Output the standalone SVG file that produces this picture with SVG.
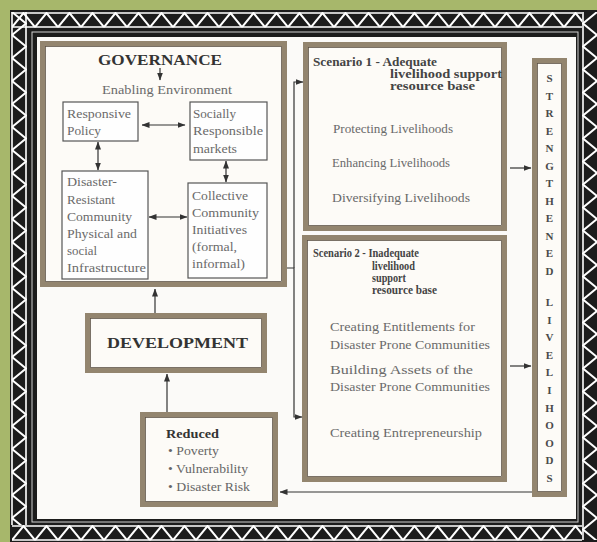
<svg xmlns="http://www.w3.org/2000/svg" width="597" height="542" viewBox="0 0 597 542">
<style>
text{font-family:"Liberation Serif","Times New Roman",serif;}
.h{font-weight:bold;fill:#333;}
.b{fill:#6a6a6a;font-size:12.5px;}
.s{fill:#666;font-size:11.5px;}
.sh{font-weight:bold;fill:#444;font-size:11.5px;}
.L{font-weight:bold;fill:#4a4a4a;font-size:11px;text-anchor:middle;}
.bx{fill:#fdfbf7;stroke:#93856f;stroke-width:5;}
.bxi{fill:none;stroke:#5a4f43;stroke-width:0.8;}
.sm{fill:#fefefe;stroke:#555;stroke-width:1.2;}
.c{fill:none;stroke:#333;stroke-width:1.2;}
</style>
<defs>
<marker id="ah" markerWidth="8" markerHeight="6" refX="7.5" refY="3" orient="auto-start-reverse" markerUnits="userSpaceOnUse">
<path d="M0,0 L8,3 L0,6 z" fill="#333"/>
</marker>
<pattern id="zzH" patternUnits="userSpaceOnUse" x="12" y="12" width="23" height="16">
<path d="M0,15 L11.5,1 L23,15" fill="none" stroke="#fff" stroke-width="2"/>
<path d="M0,1 H23 M0,15 H23" stroke="#fff" stroke-width="1.6"/>
</pattern>
<pattern id="zzHb" patternUnits="userSpaceOnUse" x="12" y="525" width="23" height="16">
<path d="M0,15 L11.5,1 L23,15" fill="none" stroke="#fff" stroke-width="2"/>
<path d="M0,1 H23 M0,15 H23" stroke="#fff" stroke-width="1.6"/>
</pattern>
<pattern id="zzV" patternUnits="userSpaceOnUse" x="11" y="12" width="16" height="23">
<path d="M1,0 L15,11.5 L1,23" fill="none" stroke="#fff" stroke-width="2"/>
<path d="M1,0 V23 M15,0 V23" stroke="#fff" stroke-width="1.6"/>
</pattern>
<pattern id="zzVr" patternUnits="userSpaceOnUse" x="582" y="12" width="16" height="23">
<path d="M15,0 L1,11.5 L15,23" fill="none" stroke="#fff" stroke-width="2"/>
<path d="M1,0 V23" stroke="#fff" stroke-width="1.6"/>
</pattern>
</defs>

<g id="frame">
<rect x="0" y="0" width="597" height="542" fill="#a7b76b"/>
<rect x="10" y="10" width="587" height="532" fill="#1c1c1c"/>
<rect x="12" y="12" width="570" height="16" fill="url(#zzH)"/>
<rect x="12" y="525" width="570" height="16" fill="url(#zzHb)"/>
<rect x="11" y="12" width="16" height="513" fill="url(#zzV)"/>
<rect x="582" y="12" width="15" height="528" fill="url(#zzVr)"/>
<rect x="32" y="32" width="546" height="490" fill="none" stroke="#cfcfcf" stroke-width="1"/>
<rect x="37" y="37" width="539" height="482" fill="#fbfaf8"/>
</g>

<g id="governance">
<rect class="bx" x="42.5" y="43.5" width="242" height="241"/>
<rect class="bxi" x="45.5" y="46.5" width="236" height="235"/>
<text class="h" x="98" y="65" font-size="15" textLength="124" lengthAdjust="spacingAndGlyphs">GOVERNANCE</text>
<text class="b" x="102" y="94" textLength="130" lengthAdjust="spacingAndGlyphs">Enabling Environment</text>
</g>

<g id="responsive">
<rect class="sm" x="63" y="102" width="75" height="39"/>
<text class="b" x="67" y="118" textLength="64" lengthAdjust="spacingAndGlyphs">Responsive</text>
<text class="b" x="67" y="135" textLength="34" lengthAdjust="spacingAndGlyphs">Policy</text>
</g>

<g id="socially">
<rect class="sm" x="190" y="102" width="77" height="58"/>
<text class="b" x="193" y="118" textLength="43" lengthAdjust="spacingAndGlyphs">Socially</text>
<text class="b" x="193" y="135" textLength="70" lengthAdjust="spacingAndGlyphs">Responsible</text>
<text class="b" x="193" y="153" textLength="44" lengthAdjust="spacingAndGlyphs">markets</text>
</g>

<g id="disaster">
<rect class="sm" x="62" y="171" width="86" height="108"/>
<text class="b" x="67" y="186" textLength="50" lengthAdjust="spacingAndGlyphs">Disaster-</text>
<text class="b" x="67" y="204" textLength="48" lengthAdjust="spacingAndGlyphs">Resistant</text>
<text class="b" x="67" y="221" textLength="65" lengthAdjust="spacingAndGlyphs">Community</text>
<text class="b" x="67" y="238" textLength="70" lengthAdjust="spacingAndGlyphs">Physical and</text>
<text class="b" x="67" y="255" textLength="30" lengthAdjust="spacingAndGlyphs">social</text>
<text class="b" x="67" y="272" textLength="79" lengthAdjust="spacingAndGlyphs">Infrastructure</text>
</g>

<g id="collective">
<rect class="sm" x="188" y="183" width="79" height="95"/>
<text class="b" x="192" y="200" textLength="56" lengthAdjust="spacingAndGlyphs">Collective</text>
<text class="b" x="192" y="217" textLength="67" lengthAdjust="spacingAndGlyphs">Community</text>
<text class="b" x="192" y="234" textLength="55" lengthAdjust="spacingAndGlyphs">Initiatives</text>
<text class="b" x="192" y="251" textLength="45" lengthAdjust="spacingAndGlyphs">(formal,</text>
<text class="b" x="192" y="268" textLength="53" lengthAdjust="spacingAndGlyphs">informal)</text>
</g>

<g id="development">
<rect class="bx" x="87.5" y="315.5" width="177" height="55"/>
<rect class="bxi" x="90.5" y="318.5" width="171" height="49"/>
<text class="h" x="107" y="348" font-size="15" textLength="141" lengthAdjust="spacingAndGlyphs">DEVELOPMENT</text>
</g>

<g id="reduced">
<rect class="bx" x="142.5" y="414.5" width="133" height="90"/>
<rect class="bxi" x="145.5" y="417.5" width="127" height="84"/>
<text class="h" x="166" y="438" font-size="12.5" textLength="53" lengthAdjust="spacingAndGlyphs">Reduced</text>
<text class="s" x="168" y="455" textLength="51" lengthAdjust="spacingAndGlyphs">• Poverty</text>
<text class="s" x="168" y="473" textLength="80" lengthAdjust="spacingAndGlyphs">• Vulnerability</text>
<text class="s" x="168" y="491" textLength="82" lengthAdjust="spacingAndGlyphs">• Disaster Risk</text>
</g>

<g id="scenario1">
<rect class="bx" x="305.5" y="44.5" width="199" height="184"/>
<rect class="bxi" x="308.5" y="47.5" width="193" height="178"/>
<text class="sh" x="313" y="66" textLength="124" lengthAdjust="spacingAndGlyphs">Scenario 1 - Adequate</text>
<text class="sh" x="390" y="78" textLength="112" lengthAdjust="spacingAndGlyphs">livelihood support</text>
<text class="sh" x="390" y="90" textLength="85" lengthAdjust="spacingAndGlyphs">resource base</text>
<text class="b" x="333" y="133" textLength="120" lengthAdjust="spacingAndGlyphs">Protecting Livelihoods</text>
<text class="b" x="332" y="167" textLength="118" lengthAdjust="spacingAndGlyphs">Enhancing Livelihoods</text>
<text class="b" x="332" y="202" textLength="138" lengthAdjust="spacingAndGlyphs">Diversifying Livelihoods</text>
</g>

<g id="scenario2">
<rect class="bx" x="304.5" y="237.5" width="200" height="242"/>
<rect class="bxi" x="307.5" y="240.5" width="194" height="236"/>
<text class="sh" x="313" y="257" textLength="106" lengthAdjust="spacingAndGlyphs">Scenario 2 - Inadequate</text>
<text class="sh" x="372" y="270" textLength="43" lengthAdjust="spacingAndGlyphs">livelihood</text>
<text class="sh" x="372" y="282" textLength="34" lengthAdjust="spacingAndGlyphs">support</text>
<text class="sh" x="372" y="294" textLength="65" lengthAdjust="spacingAndGlyphs">resource base</text>
<text class="b" x="330" y="331" textLength="145" lengthAdjust="spacingAndGlyphs">Creating Entitlements for</text>
<text class="b" x="330" y="349" textLength="160" lengthAdjust="spacingAndGlyphs">Disaster Prone Communities</text>
<text class="b" x="330" y="374" textLength="143" lengthAdjust="spacingAndGlyphs">Building Assets of the</text>
<text class="b" x="330" y="391" textLength="160" lengthAdjust="spacingAndGlyphs">Disaster Prone Communities</text>
<text class="b" x="330" y="437" textLength="152" lengthAdjust="spacingAndGlyphs">Creating Entrepreneurship</text>
</g>

<g id="strengthened">
<rect class="bx" x="534.5" y="60.5" width="30" height="434"/>
<rect class="bxi" x="537.5" y="63.5" width="24" height="428"/>
<text class="L" x="549.5" y="82">S</text>
<text class="L" x="549.5" y="99.5">T</text>
<text class="L" x="549.5" y="117">R</text>
<text class="L" x="549.5" y="134.5">E</text>
<text class="L" x="549.5" y="152">N</text>
<text class="L" x="549.5" y="169.5">G</text>
<text class="L" x="549.5" y="187">T</text>
<text class="L" x="549.5" y="204.5">H</text>
<text class="L" x="549.5" y="222">E</text>
<text class="L" x="549.5" y="239.5">N</text>
<text class="L" x="549.5" y="257">E</text>
<text class="L" x="549.5" y="274.5">D</text>
<text class="L" x="549.5" y="306">L</text>
<text class="L" x="549.5" y="323.6">I</text>
<text class="L" x="549.5" y="341.2">V</text>
<text class="L" x="549.5" y="358.8">E</text>
<text class="L" x="549.5" y="376.4">L</text>
<text class="L" x="549.5" y="394">I</text>
<text class="L" x="549.5" y="411.6">H</text>
<text class="L" x="549.5" y="429.2">O</text>
<text class="L" x="549.5" y="446.8">O</text>
<text class="L" x="549.5" y="464.4">D</text>
<text class="L" x="549.5" y="482">S</text>
</g>

<g id="connectors">
<path class="c" d="M160,68 V80" marker-end="url(#ah)"/>
<path class="c" d="M142,125 H185" marker-start="url(#ah)" marker-end="url(#ah)"/>
<path class="c" d="M98,142 V170" marker-start="url(#ah)" marker-end="url(#ah)"/>
<path class="c" d="M226,161 V182" marker-start="url(#ah)" marker-end="url(#ah)"/>
<path class="c" d="M149,217 H187" marker-start="url(#ah)" marker-end="url(#ah)"/>
<path class="c" d="M294,268 V82 H303" marker-end="url(#ah)"/>
<path class="c" d="M287,268 H294 V417 H302" marker-end="url(#ah)"/>
<path class="c" d="M155,313 V289" marker-end="url(#ah)"/>
<path class="c" d="M167,412 V374" marker-end="url(#ah)"/>
<path class="c" d="M510,168 H531" marker-end="url(#ah)"/>
<path class="c" d="M510,366 H531" marker-end="url(#ah)"/>
<path class="c" d="M532,492 H280" marker-end="url(#ah)"/>
</g>
</svg>
